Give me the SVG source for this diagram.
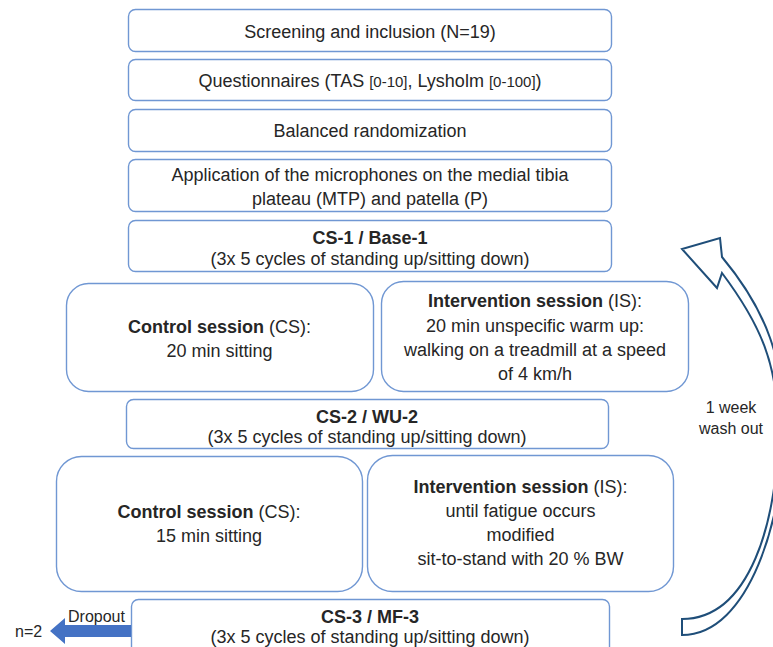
<svg xmlns="http://www.w3.org/2000/svg" width="773" height="647" viewBox="0 0 773 647">
<style>
.box{fill:#ffffff;stroke:#7097D3;stroke-width:1.4}
.t{font-family:"Liberation Sans",Arial,sans-serif;font-size:18px;fill:#262626;text-anchor:middle}
.b{font-weight:bold}
.s{font-size:15px}
.lbl{font-family:"Liberation Sans",Arial,sans-serif;font-size:16px;fill:#262626}
</style>
<rect width="773" height="647" fill="#ffffff"/>
<g id="n1"><rect class="box" x="128.5" y="9.5" width="483" height="42" rx="7"/><text class="t" x="370" y="38">Screening and inclusion (N=19)</text></g>
<g id="n2"><rect class="box" x="128.5" y="59.5" width="483" height="41" rx="7"/><text class="t" x="370" y="87">Questionnaires (TAS <tspan class="s">[0-10]</tspan>, Lysholm <tspan class="s">[0-100]</tspan>)</text></g>
<g id="n3"><rect class="box" x="128.5" y="109.5" width="483" height="42" rx="7"/><text class="t" x="370" y="137">Balanced randomization</text></g>
<g id="n4"><rect class="box" x="128.5" y="159.5" width="483" height="52" rx="7"/><text class="t" x="370" y="181">Application of the microphones on the medial tibia</text><text class="t" x="370" y="205">plateau (MTP) and patella (P)</text></g>
<g id="n5"><rect class="box" x="128.5" y="220.5" width="483" height="51" rx="7"/><text class="t b" x="370" y="244">CS-1 / Base-1</text><text class="t" x="370" y="265">(3x 5 cycles of standing up/sitting down)</text></g>
<g id="n6"><rect class="box" x="66.5" y="283.5" width="307" height="108" rx="22"/><text class="t" x="219.5" y="333"><tspan class="b">Control session</tspan> (CS):</text><text class="t" x="219.5" y="357">20 min sitting</text></g>
<g id="n7"><rect class="box" x="381.5" y="281.5" width="307" height="110" rx="22"/><text class="t" x="535" y="307"><tspan class="b">Intervention session</tspan> (IS):</text><text class="t" x="535" y="332">20 min unspecific warm up:</text><text class="t" x="535" y="356">walking on a treadmill at a speed</text><text class="t" x="535" y="380">of 4 km/h</text></g>
<g id="n8"><rect class="box" x="126.5" y="399.5" width="482" height="49" rx="7"/><text class="t b" x="367" y="423">CS-2 / WU-2</text><text class="t" x="367" y="443">(3x 5 cycles of standing up/sitting down)</text></g>
<g id="n9"><rect class="box" x="56.5" y="456.5" width="306" height="135" rx="25"/><text class="t" x="209" y="518"><tspan class="b">Control session</tspan> (CS):</text><text class="t" x="209" y="542">15 min sitting</text></g>
<g id="n10"><rect class="box" x="367.5" y="455.5" width="306" height="136" rx="25"/><text class="t" x="520.5" y="493"><tspan class="b">Intervention session</tspan> (IS):</text><text class="t" x="520.5" y="517">until fatigue occurs</text><text class="t" x="520.5" y="541">modified</text><text class="t" x="520.5" y="565">sit-to-stand with 20 % BW</text></g>
<g id="n11"><rect class="box" x="131.5" y="599.5" width="478" height="60" rx="7"/><text class="t b" x="370" y="623">CS-3 / MF-3</text><text class="t" x="370" y="643">(3x 5 cycles of standing up/sitting down)</text></g>
<g id="connectors">
<polygon points="131,625 65,625 65,618 50,631 65,644 65,637 131,637" fill="#4472C4"/>
<text class="lbl" x="68" y="622" font-size="15">Dropout</text>
<text class="lbl" x="15" y="637">n=2</text>
<path d="M682,635 L682,619 C750,619 778,520 778,430 C778,365 761,325 722,273 L717,288 L682,249 L720,238 L722,257 C767,311 784,360 784,430 C784,515 750,635 682,635 Z" fill="#ffffff" stroke="#1F4E79" stroke-width="2" stroke-linejoin="miter"/>
<text class="lbl" x="731" y="413" text-anchor="middle">1 week</text>
<text class="lbl" x="731" y="434" text-anchor="middle">wash out</text>
</g>
</svg>
